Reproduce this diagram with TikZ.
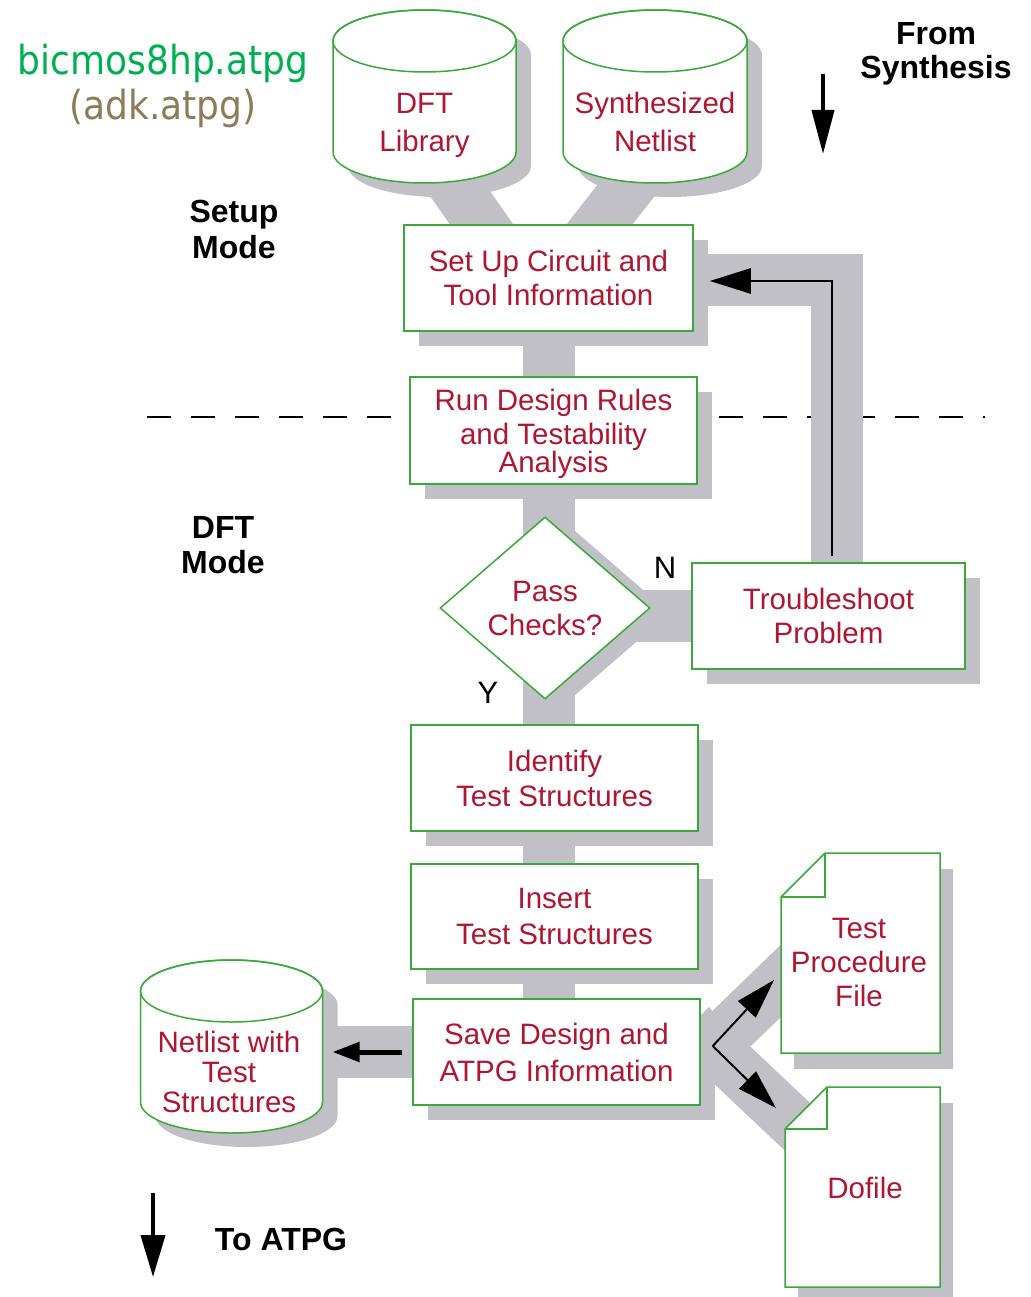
\documentclass[tikz,border=0pt]{standalone}
\usepackage{fontspec}
\setmainfont{Liberation Sans}
\newfontfamily\titlefont{DejaVu Sans}
\usetikzlibrary{shapes.geometric,arrows.meta,calc,shadows,backgrounds}

\definecolor{boxgreen}{RGB}{58,168,58}
\definecolor{txtred}{RGB}{176,22,52}
\definecolor{shadowgray}{RGB}{192,192,198}
\definecolor{titlegreen}{RGB}{0,176,80}
\definecolor{titletan}{RGB}{140,124,88}

\tikzset{
  stepbox/.style={rectangle, draw=boxgreen, line width=1.5pt, fill=white,
    text=txtred, align=center, inner sep=0pt, text depth=0pt,
    font=\fontsize{29.5pt}{34pt}\selectfont,
    general shadow={fill=shadowgray, shadow xshift=15pt, shadow yshift=-15pt}},
  decision/.style={diamond, draw=boxgreen, line width=1.5pt, fill=white,
    text=txtred, align=center, inner sep=0pt, text depth=0pt, aspect=1.15,
    minimum width=210pt, minimum height=182pt,
    font=\fontsize{29.5pt}{34pt}\selectfont,
    general shadow={fill=shadowgray, shadow xshift=20pt, shadow yshift=-5pt}},
  celltext/.style={text=txtred, align=center, inner sep=0pt, text depth=0pt,
    font=\fontsize{29.5pt}{34pt}\selectfont},
  outline/.style={draw=boxgreen, line width=1.5pt},
  holder/.style={inner sep=0pt, outer sep=0pt, draw=none},
  modelabel/.style={align=center, inner sep=0pt, text depth=0pt,
    font=\fontsize{32pt}{36pt}\selectfont\bfseries},
  branchlabel/.style={inner sep=0pt, text depth=0pt,
    font=\fontsize{31pt}{36pt}\selectfont},
  band/.style={draw=shadowgray, line width=52pt},
  divider/.style={draw=black, line width=1.5pt, dash pattern=on 24pt off 20pt},
}

% database cylinder: name, centre x, top y, bottom y, half width
\newcommand\dbcyl[5]{%
  \fill[shadowgray] ({#2-#5+15},{#3+45}) -- ({#2-#5+15},{#4-17})
    arc[start angle=180,end angle=360,x radius=#5pt,y radius=31pt]
    -- ({#2+#5+15},{#3+45})
    arc[start angle=0,end angle=180,x radius=#5pt,y radius=31pt] -- cycle;
  \filldraw[outline, fill=white] ({#2-#5},{#3+31}) -- ({#2-#5},{#4-31})
    arc[start angle=180,end angle=360,x radius=#5pt,y radius=31pt]
    -- ({#2+#5},{#3+31})
    arc[start angle=0,end angle=180,x radius=#5pt,y radius=31pt] -- cycle;
  \draw[outline] ({#2},{#3+31}) ellipse[x radius=#5pt,y radius=31pt];
  \node[holder, minimum width={2*#5*1pt}, minimum height={(#4-#3)*1pt}]
    (#1) at ({#2},{(#3+#4)/2}) {};
}

% document page with folded corner: name, left, top, right, bottom, fold
\newcommand\docpage[6]{%
  \fill[shadowgray] ({#2+#6+13},{#3+16}) -- ({#4+13},{#3+16}) -- ({#4+13},{#5+16})
    -- ({#2+13},{#5+16}) -- ({#2+13},{#3+#6+16}) -- cycle;
  \filldraw[outline, fill=white] ({#2+#6},{#3}) -- (#4,#3) -- (#4,#5)
    -- (#2,#5) -- (#2,{#3+#6}) -- cycle;
  \draw[outline] ({#2+#6},#3) -- ({#2+#6},{#3+#6}) -- (#2,{#3+#6});
  \node[holder, minimum width={(#4-#2)*1pt}, minimum height={(#5-#3)*1pt}]
    (#1) at ({(#2+#4)/2},{(#3+#5)/2}) {};
}

\begin{document}
\begin{tikzpicture}[x=1pt,y=-1pt]
\useasboundingbox (0,0) rectangle (1030,1297);

% headings
\node[anchor=base, text=titlegreen, font=\titlefont\fontsize{40pt}{44pt}\selectfont]
  (title) at (163,75) {\scalebox{0.9}[1]{bicmos8hp.atpg}};
\node[anchor=base, text=titletan, font=\titlefont\fontsize{40pt}{44pt}\selectfont]
  (subtitle) at (163,120) {\scalebox{0.9}[1]{(adk.atpg)}};
\node[modelabel] (fromsyn) at (936,50) {From\\[-2pt]Synthesis};
\node[modelabel] (setupmode) at (234,229.5) {Setup\\Mode};
\node[modelabel] (dftmode) at (223,544.5) {DFT\\[-1pt]Mode};
\node[modelabel] (toatpg) at (281,1239) {To ATPG};

% input databases
\dbcyl{dftlib}{424.5}{10}{183}{91.5}
\node[celltext] (dftlib-t) at (424.5,122) {DFT\\[4pt]Library};
\dbcyl{synth}{655}{10}{183}{92}
\node[celltext] (synth-t) at (655,122) {Synthesized\\[4pt]Netlist};

% output database
\dbcyl{netcyl}{231.5}{960}{1133}{91}
\node[celltext] (netcyl-t) at (229,1072) {Netlist with\\[-4pt]Test\\[-4pt]Structures};

% output files
\docpage{testproc}{781}{853}{940}{1053}{44}
\node[celltext] (testproc-t) at (859,962) {Test\\Procedure\\File};
\docpage{dofile}{785}{1087}{940}{1287}{42}
\node[celltext] (dofile-t) at (865,1188) {Dofile};

% flow steps
\node[stepbox, minimum width=289pt, minimum height=106pt] (setup) at (548.5,278)
  {Set Up Circuit and\\Tool Information};
\node[stepbox, minimum width=287pt, minimum height=107pt] (rundrc) at (553.5,430.5)
  {Run Design Rules\\and Testability\\[-6pt]Analysis};
\node[decision] (pass) at (545,608) {Pass\\Checks?};
\node[stepbox, minimum width=273pt, minimum height=106pt] (trouble) at (828.5,616)
  {Troubleshoot\\Problem};
\node[stepbox, minimum width=287pt, minimum height=106pt] (identify) at (554.5,778)
  {Identify\\[1pt]Test Structures};
\node[stepbox, minimum width=287pt, minimum height=105pt] (insert) at (554.5,916.5)
  {Insert\\[2pt]Test Structures};
\node[stepbox, minimum width=287pt, minimum height=106pt] (save) at (556.5,1052)
  {Save Design and\\[3pt]ATPG Information};

\node[branchlabel] (nlabel) at (665,568) {N};
\node[branchlabel] (ylabel) at (488,693) {Y};

% mode divider and grey flow bands behind everything
\coordinate (dashL) at (147,417);
\coordinate (dashR) at (985,417);
\begin{scope}[on background layer]
  \draw[divider] (dashL) -- (dashR);
  \draw[band] ($(dftlib.south)+(15.5,-18)$) -- ($(setup.north)+(-49.5,25)$);
  \draw[band] ($(synth.south)+(-9,-18)$) -- ($(setup.north)+(31.5,25)$);
  \draw[band] (setup.center) -- (setup.center |- save.center);
  \draw[band] (trouble.center -| pass.center) -- (trouble.center);
  \draw[band, line join=miter] ($(trouble.north)+(8,10)$) |- ($(setup.east)+(-5,2)$);
  \draw[band] (save.center) -- (save.center -| netcyl.center);
  \draw[band] ($(save.east)+(-10,16)$) -- ($(testproc.center)+(-40.5,-10)$);
  \draw[band] ($(save.east)+(-10,-26)$) -- ($(dofile.center)+(-22.5,-20)$);
\end{scope}

% arrows
\coordinate (synA) at (823,74);
\coordinate (synB) at (823,154);
\draw[line width=4pt, -{Triangle[length=44pt,width=22pt]}] (synA) -- (synB);
\coordinate (atpgA) at (153,1193);
\coordinate (atpgB) at (153,1277);
\draw[line width=4pt, -{Triangle[length=42pt,width=24pt]}] (atpgA) -- (atpgB);

\draw[line width=2.5pt, -{Triangle[length=41pt,width=25pt]}]
  ($(trouble.north)+(3.5,-6)$) |- ($(setup.east)+(16,3)$);

\draw[line width=5pt, -{Triangle[length=27pt,width=19pt]}]
  ($(save.west)+(-10,0)$) -- ($(save.west -| netcyl.east)+(10,0)$);

\coordinate (fork) at ($(save.east)+(12,-6)$);
\draw[line width=2pt, -{Triangle[length=40pt,width=24pt]}]
  (fork) -- ($(testproc.west)+(-7,27)$);
\draw[line width=2pt, -{Triangle[length=40pt,width=24pt]}]
  (fork) -- ($(dofile.west)+(-9,-79)$);
\end{tikzpicture}
\end{document}
